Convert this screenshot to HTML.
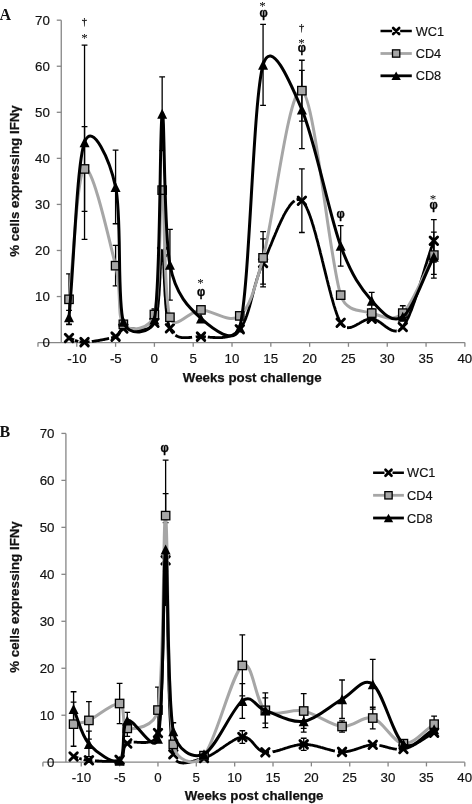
<!DOCTYPE html>
<html><head><meta charset="utf-8"><title>Figure</title>
<style>html,body{margin:0;padding:0;background:#fff;}svg{display:block;}</style>
</head><body>
<svg width="472" height="804" viewBox="0 0 472 804">
<rect width="472" height="804" fill="#fff"/>
<g stroke="#868686" stroke-width="1.3" fill="none">
<path d="M61.26 20.18 V342.60"/>
<path d="M37.97 342.60 H464.88"/>
<path d="M56.76 296.54 H61.26"/>
<path d="M56.76 250.48 H61.26"/>
<path d="M56.76 204.42 H61.26"/>
<path d="M56.76 158.36 H61.26"/>
<path d="M56.76 112.30 H61.26"/>
<path d="M56.76 66.24 H61.26"/>
<path d="M56.76 20.18 H61.26"/>
<path d="M37.97 342.60 v4.2"/>
<path d="M76.78 342.60 v4.2"/>
<path d="M115.59 342.60 v4.2"/>
<path d="M154.40 342.60 v4.2"/>
<path d="M193.21 342.60 v4.2"/>
<path d="M232.02 342.60 v4.2"/>
<path d="M270.83 342.60 v4.2"/>
<path d="M309.64 342.60 v4.2"/>
<path d="M348.45 342.60 v4.2"/>
<path d="M387.26 342.60 v4.2"/>
<path d="M426.07 342.60 v4.2"/>
<path d="M464.88 342.60 v4.2"/>
</g>
<g font-family="Liberation Sans, sans-serif" font-size="13.3" fill="#111" stroke="#111" stroke-width="0.18">
<text x="49.86" y="347.10" text-anchor="end">0</text>
<text x="49.86" y="301.04" text-anchor="end">10</text>
<text x="49.86" y="254.98" text-anchor="end">20</text>
<text x="49.86" y="208.92" text-anchor="end">30</text>
<text x="49.86" y="162.86" text-anchor="end">40</text>
<text x="49.86" y="116.80" text-anchor="end">50</text>
<text x="49.86" y="70.74" text-anchor="end">60</text>
<text x="49.86" y="24.68" text-anchor="end">70</text>
<text x="76.98" y="362.90" text-anchor="middle">-10</text>
<text x="115.79" y="362.90" text-anchor="middle">-5</text>
<text x="154.30" y="362.90" text-anchor="middle">0</text>
<text x="193.11" y="362.90" text-anchor="middle">5</text>
<text x="231.92" y="362.90" text-anchor="middle">10</text>
<text x="270.73" y="362.90" text-anchor="middle">15</text>
<text x="309.54" y="362.90" text-anchor="middle">20</text>
<text x="348.35" y="362.90" text-anchor="middle">25</text>
<text x="387.16" y="362.90" text-anchor="middle">30</text>
<text x="425.97" y="362.90" text-anchor="middle">35</text>
<text x="464.78" y="362.90" text-anchor="middle">40</text>
</g>
<text font-family="Liberation Sans, sans-serif" font-size="13.3" font-weight="bold" fill="#111" stroke="#111" stroke-width="0.25" x="252.20" y="381.80" text-anchor="middle">Weeks post challenge</text>
<text font-family="Liberation Sans, sans-serif" font-size="13.3" font-weight="bold" fill="#111" stroke="#111" stroke-width="0.25" transform="translate(19.00 181.00) rotate(-90)" text-anchor="middle">% cells expressing IFNγ</text>
<text font-family="Liberation Serif, serif" font-weight="bold" font-size="16" fill="#111" x="-0.6" y="20.30">A</text>
<g stroke="#000" stroke-width="1.3" fill="none"><path d="M263.07 238.97 V286.87 M260.17 238.97 h5.8 M260.17 286.87 h5.8"/><path d="M301.88 168.95 V232.52 M298.98 168.95 h5.8 M298.98 232.52 h5.8"/><path d="M433.83 219.62 V262.00 M430.93 219.62 h5.8 M430.93 262.00 h5.8"/></g>
<g stroke="#000" stroke-width="1.3" fill="none"><path d="M69.02 273.97 V324.64 M66.12 273.97 h5.8 M66.12 324.64 h5.8"/><path d="M84.54 126.58 V211.33 M81.64 126.58 h5.8 M81.64 211.33 h5.8"/><path d="M115.59 245.41 V285.95 M112.69 245.41 h5.8 M112.69 285.95 h5.8"/><path d="M154.40 308.98 V320.03 M151.50 308.98 h5.8 M151.50 320.03 h5.8"/><path d="M263.07 231.60 V284.10 M260.17 231.60 h5.8 M260.17 284.10 h5.8"/><path d="M301.88 60.25 V121.05 M298.98 60.25 h5.8 M298.98 121.05 h5.8"/><path d="M402.78 305.75 V320.49 M399.88 305.75 h5.8 M399.88 320.49 h5.8"/><path d="M433.83 232.06 V278.12 M430.93 232.06 h5.8 M430.93 278.12 h5.8"/></g>
<g stroke="#000" stroke-width="1.3" fill="none"><path d="M69.02 310.36 V324.18 M66.12 310.36 h5.8 M66.12 324.18 h5.8"/><path d="M84.54 45.05 V239.43 M81.64 45.05 h5.8 M81.64 239.43 h5.8"/><path d="M115.59 150.07 V223.77 M112.69 150.07 h5.8 M112.69 223.77 h5.8"/><path d="M162.16 76.83 V150.53 M159.26 76.83 h5.8 M159.26 150.53 h5.8"/><path d="M169.92 229.29 V300.22 M167.02 229.29 h5.8 M167.02 300.22 h5.8"/><path d="M263.07 24.33 V105.39 M260.17 24.33 h5.8 M260.17 105.39 h5.8"/><path d="M301.88 70.39 V148.69 M298.98 70.39 h5.8 M298.98 148.69 h5.8"/><path d="M340.69 225.61 V266.14 M337.79 225.61 h5.8 M337.79 266.14 h5.8"/><path d="M371.74 292.39 V308.98 M368.84 292.39 h5.8 M368.84 308.98 h5.8"/><path d="M433.83 238.97 V274.43 M430.93 238.97 h5.8 M430.93 274.43 h5.8"/></g>
<path d="M69.0 338.0L69.3 338.1L69.5 338.1L69.8 338.2L70.0 338.3L70.3 338.4L70.5 338.5L70.7 338.5L71.0 338.6L71.2 338.7L71.4 338.8L71.7 338.9L71.9 339.0L72.1 339.1L72.3 339.2L72.5 339.3L72.8 339.4L73.0 339.4L73.2 339.5L73.4 339.6L73.6 339.7L73.8 339.8L74.0 339.9M74.9 340.3L75.1 340.4L75.4 340.5L75.6 340.6L75.8 340.7L76.0 340.8L76.3 340.8L76.5 340.9L76.7 341.0L77.0 341.1L77.2 341.2L77.5 341.3L77.7 341.3L78.0 341.4L78.2 341.5M79.6 341.8L79.9 341.8L80.1 341.9L80.4 341.9L80.7 342.0L81.1 342.0L81.4 342.0L81.7 342.1L82.0 342.1L82.4 342.1L82.7 342.1L83.1 342.1L83.4 342.2L83.8 342.2L84.2 342.1L84.5 342.1L84.9 342.1L85.3 342.1L85.8 342.1L86.2 342.1L86.7 342.0L87.1 342.0L87.6 342.0L88.1 341.9L88.6 341.9L89.1 341.8L89.6 341.8M91.8 341.5L92.3 341.4L92.9 341.4L93.4 341.3L94.0 341.2L94.6 341.1L95.2 341.0L95.8 340.9L96.4 340.8L97.0 340.7L97.6 340.7L98.2 340.6L98.8 340.5L99.4 340.4L99.9 340.2L100.5 340.1L101.1 340.0L101.7 339.9L102.3 339.8L102.9 339.7L103.5 339.6L104.1 339.5L104.7 339.4L105.3 339.2L105.8 339.1L106.4 339.0L106.9 338.9L107.5 338.8L108.0 338.6L108.6 338.5L109.1 338.4M111.1 337.9L111.6 337.8L112.0 337.7L112.5 337.6L112.9 337.4L113.4 337.3L113.8 337.2L114.2 337.1L114.5 337.0L114.9 336.8L115.3 336.7L115.6 336.6L115.8 336.5L116.1 336.4L116.3 336.3L116.5 336.2L116.8 336.1L116.9 336.0L117.1 335.9L117.3 335.7L117.5 335.6L117.6 335.5L117.8 335.4L117.9 335.2L118.0 335.1L118.2 335.0L118.3 334.8L118.4 334.7L118.5 334.6L118.6 334.4L118.7 334.3L118.8 334.1L118.9 334.0L118.9 333.8L119.0 333.7L119.1 333.5L119.2 333.4L119.2 333.2L119.3 333.1L119.3 332.9L119.4 332.7L119.5 332.6L119.5 332.4L119.6 332.3L119.7 332.1L119.7 332.0L119.8 331.8L119.9 331.7L119.9 331.5L120.0 331.4L120.1 331.2L120.2 331.1L120.3 330.9L120.3 330.8L120.4 330.6L120.5 330.5L120.7 330.3L120.8 330.2L120.9 330.1L121.0 329.9L121.2 329.8L121.3 329.7L121.5 329.5L121.6 329.4L121.8 329.3L122.0 329.2L122.2 329.1L122.4 329.0L122.6 328.8L122.8 328.7L123.1 328.6L123.3 328.6L123.7 328.4L124.0 328.4L124.4 328.3L124.8 328.2L125.2 328.2L125.6 328.2L126.1 328.2L126.5 328.2L127.0 328.2L127.4 328.2L127.9 328.2L128.4 328.3L129.0 328.3L129.5 328.4L130.0 328.5L130.6 328.6L131.1 328.6L131.7 328.7L132.3 328.8L132.8 328.9L133.4 329.0L134.0 329.0L134.6 329.1L135.2 329.2L135.8 329.3L136.4 329.4L137.0 329.4L137.6 329.5L138.3 329.6L138.9 329.6L139.5 329.6L140.1 329.7L140.7 329.7L141.3 329.7L141.9 329.7L142.5 329.7L143.1 329.6L143.7 329.6L144.3 329.5L144.9 329.5L145.5 329.4L146.1 329.2L146.6 329.1L147.2 328.9L147.7 328.8L148.3 328.6L148.8 328.3L149.3 328.1L149.8 327.8L150.3 327.5L150.8 327.2L151.2 326.8L151.7 326.4L152.1 326.0L152.6 325.5L153.0 325.1L153.3 324.5L153.7 324.0L154.1 323.4L154.4 322.8L154.7 322.1L155.0 321.4L155.3 320.5L155.6 319.6L155.9 318.7L156.1 317.7L156.4 316.6L156.6 315.5L156.8 314.3L157.0 313.0L157.2 311.7L157.4 310.4L157.6 309.0L157.8 307.6L158.0 306.2L158.1 304.7L158.3 303.2L158.4 301.7L158.6 300.1L158.7 298.5L158.8 296.9L159.0 295.3L159.1 293.7L159.2 292.0L159.3 290.4L159.4 288.7L159.5 287.1L159.6 285.5L159.7 283.8L159.7 282.2L159.8 280.6L159.9 279.0L160.0 277.4L160.0 275.8L160.1 274.3L160.2 272.7L160.2 271.3L160.3 269.8L160.4 268.4L160.4 267.0L160.5 265.7L160.6 264.4L160.6 263.1L160.7 261.9L160.8 260.8L160.8 259.7L160.9 258.6L161.0 257.7L161.1 256.7L161.1 255.9L161.2 255.1L161.3 254.4L161.4 253.8L161.5 253.3L161.6 252.8L161.7 252.4L161.8 252.2L161.9 252.0L162.0 251.9L162.2 251.9L162.3 252.0L162.4 252.1L162.5 252.4L162.6 252.8L162.7 253.3L162.8 253.8L162.9 254.5L163.0 255.2L163.1 256.0L163.2 256.9L163.3 257.8L163.3 258.8L163.4 259.9L163.5 261.0L163.6 262.2L163.6 263.5L163.7 264.8L163.8 266.1L163.8 267.5L163.9 269.0L164.0 270.4L164.0 272.0L164.1 273.5L164.1 275.1L164.2 276.7L164.3 278.4L164.4 280.0L164.4 281.7L164.5 283.4L164.6 285.1L164.7 286.9L164.8 288.6L164.8 290.3L164.9 292.1L165.0 293.8L165.1 295.6L165.3 297.3L165.4 299.0L165.5 300.7L165.6 302.4L165.7 304.1L165.9 305.8L166.0 307.4L166.2 309.0L166.3 310.5L166.5 312.1L166.7 313.6L166.9 315.0L167.1 316.4L167.3 317.8L167.5 319.1L167.7 320.4L168.0 321.6L168.2 322.8L168.5 323.9L168.7 324.9L169.0 325.9L169.3 326.8L169.6 327.6L169.9 328.3L170.2 329.0L170.6 329.7L170.9 330.3L171.3 330.9L171.7 331.4L172.0 332.0L172.4 332.5L172.8 333.0L173.2 333.4M175.4 335.3L175.9 335.6L176.3 335.8L176.8 336.1L177.3 336.3L177.8 336.5L178.3 336.7L178.8 336.9L179.3 337.0L179.8 337.2L180.3 337.3L180.8 337.4L181.3 337.5L181.9 337.6L182.4 337.6L183.0 337.7L183.5 337.7L184.1 337.7L184.6 337.7L185.2 337.7L185.7 337.7L186.3 337.7L186.9 337.7L187.4 337.7L188.0 337.6L188.6 337.6L189.2 337.5L189.8 337.5L190.4 337.4L190.9 337.4L191.5 337.3L192.1 337.2M195.7 336.9L196.3 336.8L196.9 336.8L197.4 336.7L198.0 336.7L198.6 336.7L199.2 336.6L199.8 336.6L200.4 336.6L201.0 336.6L201.6 336.6L202.2 336.6L202.8 336.7L203.4 336.7L204.0 336.7L204.6 336.8L205.2 336.8L205.9 336.9M207.8 337.0L208.5 337.1L209.2 337.1L209.8 337.2L210.5 337.3L211.2 337.3L211.9 337.4L212.5 337.4L213.2 337.5L213.9 337.5L214.6 337.5L215.3 337.6L216.0 337.6L216.7 337.6L217.4 337.6L218.1 337.6L218.8 337.6L219.5 337.6L220.2 337.6L220.9 337.6L221.6 337.6L222.3 337.5L222.9 337.4L223.6 337.4L224.3 337.3L225.0 337.2L225.7 337.1L226.4 336.9L227.0 336.8L227.7 336.6L228.4 336.5L229.0 336.3L229.7 336.1L230.3 335.8L231.0 335.6L231.6 335.3L232.3 335.0L232.9 334.7L233.5 334.4L234.1 334.1L234.7 333.7L235.3 333.3L235.9 332.9L236.5 332.4L237.1 332.0L237.6 331.5L238.2 331.0L238.7 330.4L239.3 329.8L239.8 329.2L240.3 328.6L240.8 327.9L241.3 327.2L241.8 326.5L242.2 325.8L242.7 325.0L243.1 324.2L243.5 323.3L244.0 322.4L244.4 321.6L244.8 320.6L245.2 319.7L245.6 318.7L246.0 317.7L246.3 316.7L246.7 315.7L247.1 314.6L247.4 313.5L247.8 312.5L248.1 311.3L248.5 310.2L248.8 309.1L249.1 307.9L249.5 306.8L249.8 305.6L250.1 304.4L250.5 303.2L250.8 302.0L251.1 300.7L251.4 299.5L251.7 298.3L252.1 297.0L252.4 295.8L252.7 294.5L253.1 293.2L253.4 292.0L253.7 290.7L254.0 289.4L254.4 288.2L254.7 286.9L255.1 285.6L255.4 284.4L255.8 283.1L256.2 281.8L256.5 280.6L256.9 279.3L257.3 278.1L257.7 276.9L258.1 275.6L258.5 274.4L258.9 273.2L259.3 272.0L259.7 270.8L260.2 269.6L260.6 268.5L261.1 267.3L261.6 266.2L262.1 265.1L262.6 264.0L263.1 262.9L263.6 261.8L264.1 260.7L264.7 259.5L265.2 258.3L265.8 257.0L266.3 255.7L266.9 254.4L267.5 253.0L268.1 251.6L268.6 250.2L269.2 248.7L269.8 247.3L270.4 245.8L271.1 244.3L271.7 242.8L272.3 241.2L272.9 239.7L273.6 238.2L274.2 236.6L274.9 235.1L275.5 233.5L276.2 232.0L276.8 230.4L277.5 228.9L278.1 227.4L278.8 225.9L279.5 224.4L280.2 222.9L280.8 221.5L281.5 220.1L282.2 218.7L282.9 217.3L283.5 215.9L284.2 214.6L284.9 213.4L285.6 212.1L286.3 211.0L287.0 209.8L287.7 208.7L288.4 207.7L289.1 206.7L289.7 205.7L290.4 204.8L291.1 204.0L291.8 203.2L292.5 202.5L293.2 201.9L293.9 201.3L294.6 200.8M296.6 199.8L297.3 199.6L297.9 199.5L298.6 199.5L299.3 199.5L299.9 199.7L300.6 199.9L301.2 200.3L301.9 200.7L302.5 201.3L303.2 202.0L303.8 202.8L304.5 203.8L305.1 204.9L305.8 206.0L306.5 207.4L307.1 208.8L307.8 210.3L308.4 211.9L309.1 213.6L309.8 215.4L310.4 217.3L311.1 219.2L311.8 221.3L312.4 223.4L313.1 225.5L313.8 227.8L314.4 230.1L315.1 232.4L315.8 234.9L316.4 237.3L317.1 239.8L317.8 242.3L318.4 244.9L319.1 247.5L319.8 250.1L320.4 252.8L321.1 255.5L321.8 258.1L322.4 260.8L323.1 263.5L323.7 266.2L324.4 268.9L325.1 271.6L325.7 274.2L326.4 276.9L327.0 279.5L327.7 282.1L328.3 284.6L329.0 287.2L329.6 289.6L330.3 292.1L330.9 294.5L331.5 296.8L332.2 299.1L332.8 301.3L333.4 303.5L334.0 305.6L334.7 307.6L335.3 309.6L335.9 311.4L336.5 313.2L337.1 314.9L337.7 316.5L338.3 317.9L338.9 319.3L339.5 320.6L340.1 321.7L340.7 322.8L341.1 323.4L341.5 324.0L341.9 324.6L342.3 325.1L342.8 325.5L343.2 325.9L343.7 326.3L344.1 326.6M347.0 327.7L347.5 327.7L348.0 327.8L348.5 327.7L349.0 327.7L349.5 327.6L350.0 327.6L350.5 327.4L351.0 327.3L351.6 327.1L352.1 327.0L352.6 326.8L353.2 326.5L353.7 326.3L354.2 326.1L354.8 325.8L355.3 325.5L355.9 325.2L356.4 324.9L357.0 324.6L357.5 324.3L358.1 324.0L358.6 323.7L359.2 323.4L359.7 323.1L360.3 322.7L360.9 322.4L361.4 322.1L362.0 321.8L362.5 321.5L363.1 321.2L363.6 320.9L364.2 320.6L364.8 320.4L365.3 320.1L365.9 319.9L366.4 319.7L366.9 319.5L367.5 319.3L368.0 319.1L368.6 319.0L369.1 318.8L369.6 318.8L370.2 318.7L370.7 318.6L371.2 318.6L371.7 318.6L372.3 318.7L372.8 318.8L373.3 318.9L373.8 319.0L374.3 319.2L374.9 319.4L375.4 319.6L375.9 319.8L376.4 320.1L376.9 320.4L377.5 320.7L378.0 321.0L378.5 321.3L379.0 321.7L379.5 322.0L380.1 322.4L380.6 322.7L381.1 323.1L381.6 323.5L382.2 323.9L382.7 324.3L383.2 324.7L383.7 325.1L384.3 325.5L384.8 325.9L385.3 326.3L385.8 326.7L386.3 327.0L386.9 327.4L387.4 327.8L387.9 328.1L388.4 328.5L388.9 328.8L389.5 329.1L390.0 329.4L390.5 329.6L391.0 329.9L391.5 330.1L392.1 330.3L392.6 330.5L393.1 330.7L393.6 330.8L394.1 330.9L394.6 331.0L395.2 331.0L395.7 331.1L396.2 331.0L396.7 331.0M399.2 330.1L399.8 329.8L400.3 329.4L400.8 329.0L401.3 328.6L401.8 328.1L402.3 327.5L402.8 326.9L403.3 326.3L403.8 325.5L404.3 324.8L404.9 323.9L405.4 323.1L405.9 322.2L406.4 321.2L406.9 320.2L407.4 319.1L408.0 318.1L408.5 316.9L409.0 315.8L409.5 314.6L410.0 313.3L410.5 312.0L411.1 310.7L411.6 309.4L412.1 308.0L412.6 306.6L413.1 305.2L413.6 303.8L414.2 302.3L414.7 300.8L415.2 299.3L415.7 297.7L416.2 296.2L416.8 294.6L417.3 293.0L417.8 291.4L418.3 289.8L418.8 288.1L419.3 286.5L419.9 284.8L420.4 283.2L420.9 281.5L421.4 279.8L421.9 278.1L422.4 276.4L423.0 274.7L423.5 273.0L424.0 271.3L424.5 269.6L425.0 267.9L425.5 266.2L426.1 264.6L426.6 262.9L427.1 261.2L427.6 259.5L428.1 257.9L428.7 256.3L429.2 254.6L429.7 253.0L430.2 251.4L430.7 249.8L431.2 248.3L431.8 246.7L432.3 245.2L432.8 243.7L433.3 242.3L433.8 240.8" fill="none" stroke="#000" stroke-width="2.8" stroke-linejoin="round"/>
<path d="M65.27 334.24 L72.77 341.74 M65.27 341.74 L72.77 334.24" stroke="#000" stroke-width="2.9" stroke-linecap="round" fill="none"/>
<path d="M80.79 338.39 L88.29 345.89 M80.79 345.89 L88.29 338.39" stroke="#000" stroke-width="2.9" stroke-linecap="round" fill="none"/>
<path d="M111.84 332.86 L119.34 340.36 M111.84 340.36 L119.34 332.86" stroke="#000" stroke-width="2.9" stroke-linecap="round" fill="none"/>
<path d="M119.60 324.80 L127.10 332.30 M119.60 332.30 L127.10 324.80" stroke="#000" stroke-width="2.9" stroke-linecap="round" fill="none"/>
<path d="M150.65 319.04 L158.15 326.54 M150.65 326.54 L158.15 319.04" stroke="#000" stroke-width="2.9" stroke-linecap="round" fill="none"/>
<path d="M158.41 248.11 L165.91 255.61 M158.41 255.61 L165.91 248.11" stroke="#000" stroke-width="2.9" stroke-linecap="round" fill="none"/>
<path d="M166.17 324.57 L173.67 332.07 M166.17 332.07 L173.67 324.57" stroke="#000" stroke-width="2.9" stroke-linecap="round" fill="none"/>
<path d="M197.22 332.86 L204.72 340.36 M197.22 340.36 L204.72 332.86" stroke="#000" stroke-width="2.9" stroke-linecap="round" fill="none"/>
<path d="M236.03 325.49 L243.53 332.99 M236.03 332.99 L243.53 325.49" stroke="#000" stroke-width="2.9" stroke-linecap="round" fill="none"/>
<path d="M259.32 259.17 L266.82 266.67 M259.32 266.67 L266.82 259.17" stroke="#000" stroke-width="2.9" stroke-linecap="round" fill="none"/>
<path d="M298.13 196.99 L305.63 204.49 M298.13 204.49 L305.63 196.99" stroke="#000" stroke-width="2.9" stroke-linecap="round" fill="none"/>
<path d="M336.94 319.04 L344.44 326.54 M336.94 326.54 L344.44 319.04" stroke="#000" stroke-width="2.9" stroke-linecap="round" fill="none"/>
<path d="M367.99 314.90 L375.49 322.40 M367.99 322.40 L375.49 314.90" stroke="#000" stroke-width="2.9" stroke-linecap="round" fill="none"/>
<path d="M399.03 323.19 L406.53 330.69 M399.03 330.69 L406.53 323.19" stroke="#000" stroke-width="2.9" stroke-linecap="round" fill="none"/>
<path d="M430.08 237.06 L437.58 244.56 M430.08 244.56 L437.58 237.06" stroke="#000" stroke-width="2.9" stroke-linecap="round" fill="none"/>
<path d="M69.02 299.30 C74.19 255.85 76.78 174.56 84.54 168.95 C92.30 163.35 109.12 239.79 115.59 265.68 C122.06 291.57 116.88 316.18 123.35 324.31 C129.82 332.45 149.88 330.14 154.40 314.50 C160.87 292.14 159.57 189.68 162.16 190.14 C164.75 190.60 163.46 297.31 169.92 317.27 C174.84 332.45 189.33 310.13 200.97 309.90 C212.62 309.67 229.43 324.56 239.78 315.89 C250.13 307.21 254.76 287.99 263.07 257.85 C273.42 220.31 288.94 84.43 301.88 90.65 C314.81 96.87 329.04 258.08 340.69 295.16 C346.06 312.27 361.39 310.13 371.74 313.12 C382.09 316.12 392.43 322.79 402.78 313.12 C413.13 303.45 423.48 274.43 433.83 255.09" fill="none" stroke="#a6a6a6" stroke-width="3" stroke-linejoin="round"/>
<rect x="64.82" y="295.10" width="8.40" height="8.40" fill="#a6a6a6" stroke="#000" stroke-width="1.3"/>
<rect x="80.34" y="164.75" width="8.40" height="8.40" fill="#a6a6a6" stroke="#000" stroke-width="1.3"/>
<rect x="111.39" y="261.48" width="8.40" height="8.40" fill="#a6a6a6" stroke="#000" stroke-width="1.3"/>
<rect x="119.15" y="320.11" width="8.40" height="8.40" fill="#a6a6a6" stroke="#000" stroke-width="1.3"/>
<rect x="150.20" y="310.30" width="8.40" height="8.40" fill="#a6a6a6" stroke="#000" stroke-width="1.3"/>
<rect x="157.96" y="185.94" width="8.40" height="8.40" fill="#a6a6a6" stroke="#000" stroke-width="1.3"/>
<rect x="165.72" y="313.07" width="8.40" height="8.40" fill="#a6a6a6" stroke="#000" stroke-width="1.3"/>
<rect x="196.77" y="305.70" width="8.40" height="8.40" fill="#a6a6a6" stroke="#000" stroke-width="1.3"/>
<rect x="235.58" y="311.69" width="8.40" height="8.40" fill="#a6a6a6" stroke="#000" stroke-width="1.3"/>
<rect x="258.87" y="253.65" width="8.40" height="8.40" fill="#a6a6a6" stroke="#000" stroke-width="1.3"/>
<rect x="297.68" y="86.45" width="8.40" height="8.40" fill="#a6a6a6" stroke="#000" stroke-width="1.3"/>
<rect x="336.49" y="290.96" width="8.40" height="8.40" fill="#a6a6a6" stroke="#000" stroke-width="1.3"/>
<rect x="367.54" y="308.92" width="8.40" height="8.40" fill="#a6a6a6" stroke="#000" stroke-width="1.3"/>
<rect x="398.58" y="308.92" width="8.40" height="8.40" fill="#a6a6a6" stroke="#000" stroke-width="1.3"/>
<rect x="429.63" y="250.89" width="8.40" height="8.40" fill="#a6a6a6" stroke="#000" stroke-width="1.3"/>
<path d="M69.02 317.27 C74.19 258.92 76.78 163.96 84.54 142.24 C92.30 120.51 109.85 160.33 115.59 186.92 C122.06 216.86 116.88 299.76 123.35 321.87 C127.72 336.81 151.55 334.87 154.40 319.57 C160.87 284.87 159.57 122.82 162.16 113.68 C164.75 104.55 163.46 230.64 169.92 264.76 C175.70 295.21 189.33 307.98 200.97 318.42 C212.62 328.86 235.04 346.75 239.78 327.40 C250.13 285.14 252.72 101.17 263.07 64.86 C271.18 36.40 290.22 82.34 301.88 109.54 C314.81 139.71 329.04 214.02 340.69 245.87 C351.50 275.46 361.39 288.86 371.74 300.69 C382.09 312.51 392.43 324.14 402.78 316.81 C413.13 309.48 423.48 276.73 433.83 256.70" fill="none" stroke="#000" stroke-width="3" stroke-linejoin="round"/>
<path d="M69.02 312.27 L74.02 322.27 L64.02 322.27 Z" fill="#000"/>
<path d="M84.54 137.24 L89.54 147.24 L79.54 147.24 Z" fill="#000"/>
<path d="M115.59 181.92 L120.59 191.92 L110.59 191.92 Z" fill="#000"/>
<path d="M123.35 316.87 L128.35 326.87 L118.35 326.87 Z" fill="#000"/>
<path d="M154.40 314.57 L159.40 324.57 L149.40 324.57 Z" fill="#000"/>
<path d="M162.16 108.68 L167.16 118.68 L157.16 118.68 Z" fill="#000"/>
<path d="M169.92 259.76 L174.92 269.76 L164.92 269.76 Z" fill="#000"/>
<path d="M200.97 313.42 L205.97 323.42 L195.97 323.42 Z" fill="#000"/>
<path d="M239.78 322.40 L244.78 332.40 L234.78 332.40 Z" fill="#000"/>
<path d="M263.07 59.86 L268.07 69.86 L258.07 69.86 Z" fill="#000"/>
<path d="M301.88 104.54 L306.88 114.54 L296.88 114.54 Z" fill="#000"/>
<path d="M340.69 240.87 L345.69 250.87 L335.69 250.87 Z" fill="#000"/>
<path d="M371.74 295.69 L376.74 305.69 L366.74 305.69 Z" fill="#000"/>
<path d="M402.78 311.81 L407.78 321.81 L397.78 321.81 Z" fill="#000"/>
<path d="M433.83 251.70 L438.83 261.70 L428.83 261.70 Z" fill="#000"/>
<text font-family="Liberation Serif, serif" font-size="10.5" fill="#000" stroke="#000" stroke-width="0.2" x="84.40" y="25.40" text-anchor="middle">†</text>
<text font-family="Liberation Serif, serif" font-size="13" fill="#000" x="84.40" y="41.60" text-anchor="middle">*</text>
<text font-family="Liberation Serif, serif" font-size="13" fill="#000" x="200.40" y="286.60" text-anchor="middle">*</text>
<text font-family="Liberation Sans, sans-serif" font-size="11.5" font-weight="bold" fill="#000" stroke="#000" stroke-width="0.3" transform="translate(201.00 296.30) scale(1 1.18)" text-anchor="middle">φ</text>
<text font-family="Liberation Serif, serif" font-size="13" fill="#000" x="262.60" y="9.80" text-anchor="middle">*</text>
<text font-family="Liberation Sans, sans-serif" font-size="11.5" font-weight="bold" fill="#000" stroke="#000" stroke-width="0.3" transform="translate(263.50 16.85) scale(1 1.18)" text-anchor="middle">φ</text>
<text font-family="Liberation Serif, serif" font-size="10.5" fill="#000" stroke="#000" stroke-width="0.2" x="301.60" y="31.00" text-anchor="middle">†</text>
<text font-family="Liberation Serif, serif" font-size="13" fill="#000" x="301.60" y="46.70" text-anchor="middle">*</text>
<text font-family="Liberation Sans, sans-serif" font-size="11.5" font-weight="bold" fill="#000" stroke="#000" stroke-width="0.3" transform="translate(301.90 51.90) scale(1 1.18)" text-anchor="middle">φ</text>
<text font-family="Liberation Sans, sans-serif" font-size="11.5" font-weight="bold" fill="#000" stroke="#000" stroke-width="0.3" transform="translate(340.55 218.40) scale(1 1.18)" text-anchor="middle">φ</text>
<text font-family="Liberation Serif, serif" font-size="13" fill="#000" x="433.00" y="202.75" text-anchor="middle">*</text>
<text font-family="Liberation Sans, sans-serif" font-size="11.5" font-weight="bold" fill="#000" stroke="#000" stroke-width="0.3" transform="translate(433.60 209.30) scale(1 1.18)" text-anchor="middle">φ</text>
<path d="M380.50 31.00 H392.15 M400.15 31.00 H411.80" stroke="#000" stroke-width="2.6"/>
<path d="M393.15 28.00 L399.15 34.00 M393.15 34.00 L399.15 28.00" stroke="#000" stroke-width="2.7" stroke-linecap="round" fill="none"/>
<path d="M380.50 53.50 H411.80" stroke="#a6a6a6" stroke-width="2.8"/>
<rect x="392.50" y="49.85" width="7.30" height="7.30" fill="#a6a6a6" stroke="#000" stroke-width="1.3"/>
<path d="M380.50 75.80 H411.80" stroke="#000" stroke-width="2.8"/>
<path d="M396.15 71.60 L400.85 80.00 L391.45 80.00 Z" fill="#000"/>
<text font-family="Liberation Sans, sans-serif" font-size="12.75" fill="#111" stroke="#111" stroke-width="0.18" x="415.70" y="35.50">WC1</text>
<text font-family="Liberation Sans, sans-serif" font-size="12.75" fill="#111" stroke="#111" stroke-width="0.18" x="415.70" y="58.00">CD4</text>
<text font-family="Liberation Sans, sans-serif" font-size="12.75" fill="#111" stroke="#111" stroke-width="0.18" x="415.70" y="80.30">CD8</text>
<g stroke="#868686" stroke-width="1.3" fill="none">
<path d="M65.91 433.41 V762.20"/>
<path d="M42.90 762.20 H464.80"/>
<path d="M61.41 715.23 H65.91"/>
<path d="M61.41 668.26 H65.91"/>
<path d="M61.41 621.29 H65.91"/>
<path d="M61.41 574.32 H65.91"/>
<path d="M61.41 527.35 H65.91"/>
<path d="M61.41 480.38 H65.91"/>
<path d="M61.41 433.41 H65.91"/>
<path d="M42.90 762.20 v4.2"/>
<path d="M81.25 762.20 v4.2"/>
<path d="M119.61 762.20 v4.2"/>
<path d="M157.96 762.20 v4.2"/>
<path d="M196.31 762.20 v4.2"/>
<path d="M234.67 762.20 v4.2"/>
<path d="M273.02 762.20 v4.2"/>
<path d="M311.38 762.20 v4.2"/>
<path d="M349.74 762.20 v4.2"/>
<path d="M388.09 762.20 v4.2"/>
<path d="M426.45 762.20 v4.2"/>
<path d="M464.80 762.20 v4.2"/>
</g>
<g font-family="Liberation Sans, sans-serif" font-size="13.3" fill="#111" stroke="#111" stroke-width="0.18">
<text x="54.51" y="766.70" text-anchor="end">0</text>
<text x="54.51" y="719.73" text-anchor="end">10</text>
<text x="54.51" y="672.76" text-anchor="end">20</text>
<text x="54.51" y="625.79" text-anchor="end">30</text>
<text x="54.51" y="578.82" text-anchor="end">40</text>
<text x="54.51" y="531.85" text-anchor="end">50</text>
<text x="54.51" y="484.88" text-anchor="end">60</text>
<text x="54.51" y="437.91" text-anchor="end">70</text>
<text x="81.45" y="781.50" text-anchor="middle">-10</text>
<text x="119.81" y="781.50" text-anchor="middle">-5</text>
<text x="157.86" y="781.50" text-anchor="middle">0</text>
<text x="196.22" y="781.50" text-anchor="middle">5</text>
<text x="234.57" y="781.50" text-anchor="middle">10</text>
<text x="272.92" y="781.50" text-anchor="middle">15</text>
<text x="311.28" y="781.50" text-anchor="middle">20</text>
<text x="349.63" y="781.50" text-anchor="middle">25</text>
<text x="387.99" y="781.50" text-anchor="middle">30</text>
<text x="426.35" y="781.50" text-anchor="middle">35</text>
<text x="464.70" y="781.50" text-anchor="middle">40</text>
</g>
<text font-family="Liberation Sans, sans-serif" font-size="13.3" font-weight="bold" fill="#111" stroke="#111" stroke-width="0.25" x="254.10" y="800.40" text-anchor="middle">Weeks post challenge</text>
<text font-family="Liberation Sans, sans-serif" font-size="13.3" font-weight="bold" fill="#111" stroke="#111" stroke-width="0.25" transform="translate(19.40 597.00) rotate(-90)" text-anchor="middle">% cells expressing IFNγ</text>
<text font-family="Liberation Serif, serif" font-weight="bold" font-size="16" fill="#111" x="-0.6" y="436.90">B</text>
<g stroke="#000" stroke-width="1.3" fill="none"><path d="M165.63 522.65 V597.81 M162.73 522.65 h5.8 M162.73 597.81 h5.8"/><path d="M242.34 730.73 V743.41 M239.44 730.73 h5.8 M239.44 743.41 h5.8"/><path d="M303.71 738.25 V750.46 M300.81 738.25 h5.8 M300.81 750.46 h5.8"/></g>
<g stroke="#000" stroke-width="1.3" fill="none"><path d="M73.58 702.08 V746.23 M70.68 702.08 h5.8 M70.68 746.23 h5.8"/><path d="M88.92 701.61 V739.18 M86.02 701.61 h5.8 M86.02 739.18 h5.8"/><path d="M119.61 683.29 V723.68 M116.70 683.29 h5.8 M116.70 723.68 h5.8"/><path d="M127.28 720.40 V736.37 M124.38 720.40 h5.8 M124.38 736.37 h5.8"/><path d="M157.96 687.05 V733.08 M155.06 687.05 h5.8 M155.06 733.08 h5.8"/><path d="M165.63 460.18 V571.03 M162.73 460.18 h5.8 M162.73 571.03 h5.8"/><path d="M242.34 634.91 V695.97 M239.44 634.91 h5.8 M239.44 695.97 h5.8"/><path d="M265.35 692.92 V727.68 M262.45 692.92 h5.8 M262.45 727.68 h5.8"/><path d="M303.71 693.62 V728.38 M300.81 693.62 h5.8 M300.81 728.38 h5.8"/><path d="M342.06 720.87 V732.14 M339.16 720.87 h5.8 M339.16 732.14 h5.8"/><path d="M372.75 707.25 V728.85 M369.85 707.25 h5.8 M369.85 728.85 h5.8"/><path d="M434.12 716.17 V732.14 M431.22 716.17 h5.8 M431.22 732.14 h5.8"/></g>
<g stroke="#000" stroke-width="1.3" fill="none"><path d="M73.58 691.75 V726.50 M70.68 691.75 h5.8 M70.68 726.50 h5.8"/><path d="M88.92 731.20 V756.56 M86.02 731.20 h5.8 M86.02 756.56 h5.8"/><path d="M127.28 712.41 V728.38 M124.38 712.41 h5.8 M124.38 728.38 h5.8"/><path d="M165.63 493.53 V605.32 M162.73 493.53 h5.8 M162.73 605.32 h5.8"/><path d="M173.30 722.75 V739.65 M170.40 722.75 h5.8 M170.40 739.65 h5.8"/><path d="M242.34 683.53 V718.28 M239.44 683.53 h5.8 M239.44 718.28 h5.8"/><path d="M265.35 697.85 V723.21 M262.45 697.85 h5.8 M262.45 723.21 h5.8"/><path d="M303.71 710.53 V732.14 M300.81 710.53 h5.8 M300.81 732.14 h5.8"/><path d="M342.06 680.00 V718.52 M339.16 680.00 h5.8 M339.16 718.52 h5.8"/><path d="M372.75 659.34 V709.12 M369.85 659.34 h5.8 M369.85 709.12 h5.8"/></g>
<path d="M73.6 756.6L73.8 756.6L74.1 756.7L74.3 756.8L74.6 756.8L74.8 756.9L75.0 757.0L75.3 757.0L75.5 757.1L75.7 757.2L76.0 757.2L76.2 757.3L76.4 757.4L76.6 757.5L76.8 757.5L77.1 757.6L77.3 757.7L77.5 757.7L77.7 757.8L77.9 757.9L78.1 758.0M79.2 758.3L79.4 758.4L79.6 758.5L79.8 758.6L80.1 758.6L80.3 758.7L80.5 758.8L80.7 758.8L81.0 758.9L81.2 759.0L81.4 759.1L81.7 759.1M83.7 759.6L84.0 759.7L84.3 759.7L84.6 759.8L84.9 759.8L85.2 759.9L85.5 759.9L85.8 760.0L86.1 760.0L86.4 760.1L86.8 760.1L87.1 760.2L87.5 760.2L87.8 760.2L88.2 760.3L88.5 760.3L88.9 760.3L89.3 760.3L89.7 760.4L90.1 760.4L90.6 760.4L91.0 760.5L91.5 760.5L91.9 760.6L92.4 760.6M95.0 760.8L95.5 760.8L96.1 760.9L96.6 760.9L97.2 761.0L97.7 761.0L98.3 761.0L98.9 761.1L99.4 761.1L100.0 761.1L100.6 761.2L101.2 761.2L101.8 761.2L102.4 761.3L103.0 761.3L103.6 761.3L104.1 761.3L104.7 761.3L105.3 761.4L105.9 761.4L106.5 761.4L107.1 761.4L107.7 761.4L108.3 761.4L108.8 761.4L109.4 761.4L110.0 761.4L110.5 761.3L111.1 761.3L111.6 761.3L112.1 761.3L112.7 761.2L113.2 761.2L113.7 761.1L114.2 761.1L114.7 761.0L115.2 761.0L115.6 760.9L116.1 760.8L116.6 760.7L117.0 760.7L117.4 760.6L117.8 760.5L118.2 760.4L118.6 760.2L118.9 760.1L119.3 760.0L119.6 759.9L119.9 759.7L120.2 759.5L120.5 759.4L120.7 759.2L121.0 759.0L121.2 758.8L121.4 758.6L121.6 758.4L121.8 758.2L122.0 758.0L122.1 757.7L122.2 757.5L122.4 757.2L122.5 757.0L122.6 756.7L122.7 756.5L122.8 756.2L122.9 755.9L122.9 755.6L123.0 755.3L123.1 755.0L123.1 754.7L123.2 754.4L123.2 754.1L123.3 753.8L123.3 753.5L123.3 753.2L123.4 752.9L123.4 752.6L123.4 752.2L123.5 751.9L123.5 751.6L123.5 751.3L123.6 751.0L123.6 750.6L123.7 750.3L123.7 750.0L123.8 749.7L123.8 749.3L123.9 749.0L123.9 748.7L124.0 748.4L124.1 748.1L124.2 747.8L124.3 747.5L124.4 747.2L124.5 746.9L124.6 746.6L124.8 746.3L124.9 746.0L125.1 745.7L125.3 745.4L125.5 745.1L125.7 744.9L125.9 744.6L126.1 744.4L126.4 744.1L126.7 743.9L127.0 743.6L127.3 743.4L127.6 743.2L128.0 743.0L128.3 742.8L128.7 742.7L129.2 742.6L129.6 742.5L130.1 742.4L130.5 742.3L131.0 742.2L131.5 742.2M133.7 742.1L134.3 742.1L134.9 742.2L135.5 742.2L136.1 742.2L136.7 742.2L137.3 742.3L138.0 742.3L138.6 742.3L139.2 742.4L139.9 742.4L140.5 742.4L141.2 742.5L141.8 742.5L142.5 742.5L143.1 742.5L143.8 742.5L144.4 742.5L145.1 742.5L145.7 742.5L146.3 742.4L146.9 742.3L147.6 742.3L148.2 742.2L148.8 742.1L149.4 742.0L150.0 741.8L150.5 741.6L151.1 741.5L151.6 741.2L152.1 741.0L152.7 740.7L153.2 740.5L153.6 740.2L154.1 739.8L154.6 739.4L155.0 739.0L155.4 738.6L155.8 738.1L156.1 737.6L156.5 737.1L156.8 736.5L157.1 735.9L157.3 735.3L157.6 734.6L157.8 733.9L158.0 733.1L158.3 731.5L158.6 729.7L158.9 727.7L159.1 725.5L159.4 723.2L159.7 720.7L159.9 718.1L160.1 715.3L160.4 712.5L160.6 709.4L160.8 706.3L161.0 703.0L161.2 699.7L161.3 696.2L161.5 692.7L161.7 689.1L161.8 685.4L162.0 681.6L162.1 677.8L162.2 673.9L162.3 670.0L162.5 666.0L162.6 662.0L162.7 658.0L162.8 654.0L162.9 650.0L163.0 645.9L163.1 641.9L163.1 637.9L163.2 633.9L163.3 629.9L163.4 626.0L163.5 622.1L163.5 618.3L163.6 614.5L163.7 610.8L163.7 607.1L163.8 603.6L163.9 600.1L163.9 596.7L164.0 593.4L164.1 590.2L164.1 587.2L164.2 584.3L164.3 581.5L164.3 578.8L164.4 576.3L164.5 573.9L164.5 571.7L164.6 569.7L164.7 567.8L164.8 566.2L164.9 564.7L165.0 563.4L165.1 562.3L165.2 561.4L165.3 560.8L165.4 560.4L165.5 560.2L165.6 560.2L165.8 560.5L165.9 561.1L166.0 561.9L166.1 562.9L166.2 564.2L166.3 565.6L166.4 567.3L166.5 569.2L166.6 571.3L166.6 573.5L166.7 576.0L166.8 578.6L166.9 581.4L166.9 584.3L167.0 587.4L167.1 590.6L167.1 594.0L167.2 597.5L167.3 601.1L167.3 604.8L167.4 608.6L167.5 612.5L167.5 616.5L167.6 620.5L167.7 624.7L167.7 628.9L167.8 633.1L167.9 637.5L168.0 641.8L168.0 646.2L168.1 650.6L168.2 655.0L168.3 659.4L168.4 663.9L168.5 668.3L168.6 672.7L168.7 677.1L168.8 681.5L168.9 685.8L169.0 690.1L169.2 694.3L169.3 698.4L169.5 702.5L169.6 706.6L169.8 710.5L169.9 714.3L170.1 718.1L170.3 721.7L170.5 725.2L170.7 728.7L170.9 731.9L171.1 735.1L171.4 738.0L171.6 740.9L171.9 743.5L172.1 746.0L172.4 748.4L172.7 750.5L173.0 752.5L173.3 754.2L173.5 755.0L173.6 755.7M176.2 760.4L176.5 760.7L176.9 761.0L177.3 761.3L177.7 761.6L178.2 761.9L178.6 762.1L179.1 762.3L179.5 762.4L180.0 762.6L180.5 762.7L181.0 762.8L181.5 762.9L182.1 762.9L182.6 763.0L183.2 763.0L183.7 763.0L184.3 762.9L184.9 762.9L185.4 762.9L186.0 762.8L186.6 762.7L187.2 762.6L187.8 762.5L188.4 762.4L189.1 762.3L189.7 762.1L190.3 762.0L190.9 761.8L191.6 761.6L192.2 761.5L192.8 761.3L193.5 761.1L194.1 760.9L194.8 760.7L195.4 760.5L196.0 760.3L196.7 760.1L197.3 759.9L197.9 759.7L198.6 759.5L199.2 759.3L199.8 759.2L200.4 759.0L201.0 758.8L201.6 758.6L202.2 758.4L202.8 758.3L203.4 758.1L204.0 758.0L204.6 757.8L205.2 757.6L205.8 757.4L206.4 757.2L207.0 757.0L207.6 756.7L208.2 756.4L208.8 756.1L209.5 755.8L210.1 755.5L210.8 755.2L211.4 754.8L212.1 754.4L212.7 754.0L213.4 753.6L214.1 753.2L214.7 752.8L215.4 752.4L216.1 751.9L216.8 751.5L217.5 751.0L218.1 750.6L218.8 750.1L219.5 749.7L220.2 749.2L220.9 748.7L221.6 748.2L222.3 747.8L223.0 747.3L223.6 746.8L224.3 746.3L225.0 745.9L225.7 745.4L226.4 744.9L227.1 744.5L227.7 744.0L228.4 743.6L229.1 743.1L229.7 742.7L230.4 742.3L231.1 741.9L231.7 741.5L232.4 741.1L233.0 740.7L233.6 740.3L234.3 740.0L234.9 739.6L235.5 739.3L236.1 739.0L236.7 738.7L237.3 738.5L237.9 738.2L238.5 738.0L239.1 737.8L239.7 737.6L240.2 737.5L240.8 737.3L241.3 737.2L241.8 737.1L242.3 737.1L242.8 737.0L243.3 737.0L243.8 737.0L244.3 737.1L244.7 737.1L245.2 737.2L245.6 737.3L246.1 737.5L246.5 737.6L246.9 737.8L247.3 738.0L247.7 738.2L248.1 738.4L248.4 738.6L248.8 738.9L249.2 739.2L249.5 739.4L249.9 739.7L250.2 740.0L250.6 740.3L250.9 740.7L251.3 741.0L251.6 741.3L251.9 741.7L252.2 742.0L252.6 742.4L252.9 742.8L253.2 743.1L253.5 743.5L253.8 743.9L254.2 744.3L254.5 744.7L254.8 745.0L255.1 745.4L255.5 745.8L255.8 746.2L256.1 746.5L256.4 746.9L256.8 747.3L257.1 747.6L257.5 748.0L257.8 748.3L258.2 748.7L258.5 749.0L258.9 749.3L259.3 749.6L259.6 749.9L260.0 750.2L260.4 750.5L260.8 750.7L261.2 751.0L261.6 751.2L262.1 751.4L262.5 751.6L262.9 751.8L263.4 751.9L263.9 752.1L264.4 752.2L264.8 752.3L265.4 752.3L265.9 752.4L266.4 752.4L266.9 752.4L267.5 752.5L268.0 752.4L268.6 752.4L269.1 752.4M272.6 751.9L273.2 751.7L273.9 751.6L274.5 751.5L275.1 751.3L275.7 751.2L276.4 751.0L277.0 750.8L277.6 750.6L278.3 750.5L278.9 750.3L279.6 750.1L280.2 749.9L280.9 749.7L281.6 749.5L282.2 749.3L282.9 749.0L283.6 748.8L284.2 748.6L284.9 748.4L285.6 748.2L286.3 748.0L286.9 747.8L287.6 747.5L288.3 747.3L289.0 747.1L289.7 746.9L290.4 746.7L291.0 746.5L291.7 746.3L292.4 746.2L293.1 746.0L293.8 745.8L294.4 745.6L295.1 745.5L295.8 745.3L296.5 745.2L297.1 745.1L297.8 744.9L298.5 744.8L299.1 744.7L299.8 744.6L300.5 744.5L301.1 744.5L301.8 744.4L302.4 744.4L303.1 744.4L303.7 744.4L304.4 744.4L305.0 744.4L305.6 744.4L306.3 744.4L306.9 744.5L307.6 744.5L308.2 744.6L308.9 744.7L309.5 744.8L310.2 744.9L310.8 745.0L311.5 745.1L312.2 745.2L312.8 745.3L313.5 745.5L314.1 745.6L314.8 745.8L315.5 745.9L316.1 746.1L316.8 746.2L317.4 746.4L318.1 746.6L318.8 746.8L319.4 746.9L320.1 747.1L320.7 747.3L321.4 747.5L322.1 747.7L322.7 747.9L323.4 748.0L324.0 748.2L324.7 748.4L325.3 748.6L326.0 748.8L326.6 749.0L327.3 749.2L327.9 749.3L328.6 749.5L329.2 749.7L329.8 749.9L330.5 750.0L331.1 750.2L331.8 750.4L332.4 750.5L333.0 750.7L333.6 750.8L334.3 750.9L334.9 751.0M337.9 751.6L338.5 751.6L339.1 751.7L339.7 751.8L340.3 751.8L340.9 751.8L341.5 751.9L342.1 751.9L342.6 751.9L343.2 751.9L343.8 751.8L344.3 751.8L344.9 751.8L345.4 751.7L346.0 751.6L346.5 751.6L347.1 751.5L347.6 751.4L348.2 751.3L348.7 751.2L349.2 751.1L349.7 751.0L350.3 750.9L350.8 750.7L351.3 750.6L351.8 750.5L352.3 750.3L352.9 750.2L353.4 750.0L353.9 749.9L354.4 749.7L354.9 749.6L355.4 749.4L355.9 749.2L356.4 749.1L356.9 748.9L357.4 748.7L357.9 748.5L358.4 748.4L358.9 748.2L359.4 748.0L359.9 747.9L360.4 747.7L360.8 747.5L361.3 747.4L361.8 747.2L362.3 747.0L362.8 746.9L363.3 746.7L363.8 746.6L364.3 746.4L364.8 746.3L365.3 746.1L365.7 746.0L366.2 745.9L366.7 745.7L367.2 745.6L367.7 745.5L368.2 745.4L368.7 745.3L369.2 745.2L369.7 745.1L370.2 745.1L370.7 745.0L371.2 744.9L371.7 744.9L372.2 744.8L372.8 744.8L373.3 744.8L373.8 744.8L374.3 744.8L374.8 744.8L375.3 744.8L375.8 744.9L376.3 744.9L376.8 745.0M379.4 745.4L379.9 745.5L380.4 745.6L380.9 745.7L381.4 745.8L382.0 745.9L382.5 746.0L383.0 746.2L383.5 746.3L384.0 746.4L384.5 746.6L385.0 746.7L385.5 746.8L386.0 747.0L386.6 747.1L387.1 747.2L387.6 747.4L388.1 747.5L388.6 747.7L389.1 747.8L389.6 747.9L390.1 748.1L390.6 748.2L391.2 748.3L391.7 748.4L392.2 748.5L392.7 748.6L393.2 748.8L393.7 748.9L394.2 748.9L394.7 749.0L395.2 749.1L395.8 749.2L396.3 749.2L396.8 749.3M398.8 749.4L399.3 749.4L399.8 749.4L400.4 749.4L400.9 749.4L401.4 749.3L401.9 749.3L402.4 749.2L402.9 749.1L403.4 749.0L403.9 748.9L404.5 748.8L405.0 748.7L405.5 748.6L406.0 748.4L406.5 748.2L407.0 748.1L407.5 747.9L408.0 747.7L408.5 747.5L409.1 747.3L409.6 747.1L410.1 746.9L410.6 746.6L411.1 746.4L411.6 746.1L412.1 745.9L412.6 745.6L413.1 745.4L413.7 745.1L414.2 744.8L414.7 744.5L415.2 744.3L415.7 744.0L416.2 743.7L416.7 743.4L417.2 743.1L417.8 742.7L418.3 742.4L418.8 742.1L419.3 741.8L419.8 741.5L420.3 741.2L420.8 740.8L421.3 740.5L421.8 740.2L422.4 739.8L422.9 739.5L423.4 739.2L423.9 738.9L424.4 738.5L424.9 738.2L425.4 737.9L425.9 737.5L426.4 737.2L427.0 736.9L427.5 736.6L428.0 736.2L428.5 735.9L429.0 735.6L429.5 735.3L430.0 735.0L430.5 734.7L431.1 734.3L431.6 734.0L432.1 733.7L432.6 733.5L433.1 733.2L433.6 732.9L434.1 732.6" fill="none" stroke="#000" stroke-width="2.8" stroke-linejoin="round"/>
<path d="M69.83 752.81 L77.33 760.31 M69.83 760.31 L77.33 752.81" stroke="#000" stroke-width="2.9" stroke-linecap="round" fill="none"/>
<path d="M85.17 756.57 L92.67 764.07 M85.17 764.07 L92.67 756.57" stroke="#000" stroke-width="2.9" stroke-linecap="round" fill="none"/>
<path d="M115.86 756.10 L123.36 763.60 M115.86 763.60 L123.36 756.10" stroke="#000" stroke-width="2.9" stroke-linecap="round" fill="none"/>
<path d="M123.53 739.66 L131.03 747.16 M123.53 747.16 L131.03 739.66" stroke="#000" stroke-width="2.9" stroke-linecap="round" fill="none"/>
<path d="M154.21 729.33 L161.71 736.83 M154.21 736.83 L161.71 729.33" stroke="#000" stroke-width="2.9" stroke-linecap="round" fill="none"/>
<path d="M161.88 556.48 L169.38 563.98 M161.88 563.98 L169.38 556.48" stroke="#000" stroke-width="2.9" stroke-linecap="round" fill="none"/>
<path d="M169.55 750.47 L177.05 757.97 M169.55 757.97 L177.05 750.47" stroke="#000" stroke-width="2.9" stroke-linecap="round" fill="none"/>
<path d="M200.24 754.22 L207.74 761.72 M200.24 761.72 L207.74 754.22" stroke="#000" stroke-width="2.9" stroke-linecap="round" fill="none"/>
<path d="M238.59 733.32 L246.09 740.82 M238.59 740.82 L246.09 733.32" stroke="#000" stroke-width="2.9" stroke-linecap="round" fill="none"/>
<path d="M261.60 748.59 L269.10 756.09 M261.60 756.09 L269.10 748.59" stroke="#000" stroke-width="2.9" stroke-linecap="round" fill="none"/>
<path d="M299.96 740.60 L307.46 748.10 M299.96 748.10 L307.46 740.60" stroke="#000" stroke-width="2.9" stroke-linecap="round" fill="none"/>
<path d="M338.31 748.12 L345.81 755.62 M338.31 755.62 L345.81 748.12" stroke="#000" stroke-width="2.9" stroke-linecap="round" fill="none"/>
<path d="M369.00 741.07 L376.50 748.57 M369.00 748.57 L376.50 741.07" stroke="#000" stroke-width="2.9" stroke-linecap="round" fill="none"/>
<path d="M399.68 745.30 L407.18 752.80 M399.68 752.80 L407.18 745.30" stroke="#000" stroke-width="2.9" stroke-linecap="round" fill="none"/>
<path d="M430.37 728.86 L437.87 736.36 M430.37 736.36 L437.87 728.86" stroke="#000" stroke-width="2.9" stroke-linecap="round" fill="none"/>
<path d="M73.58 724.15 C78.69 722.90 81.72 723.63 88.92 720.40 C96.59 716.95 113.21 702.16 119.61 703.49 C126.00 704.82 120.88 727.29 127.28 728.38 C133.67 729.48 154.79 727.65 157.96 710.06 C164.35 674.60 163.07 509.89 165.63 515.61 C168.19 521.32 166.91 704.35 173.30 744.35 C175.88 760.49 193.22 767.93 203.99 755.62 C215.49 742.47 232.11 673.00 242.34 665.44 C252.57 657.89 255.13 702.70 265.35 710.30 C275.58 717.89 290.92 708.30 303.71 711.00 C316.49 713.70 330.56 725.33 342.06 726.50 C353.57 727.68 362.52 715.19 372.75 718.05 C382.98 720.91 393.20 742.63 403.43 743.65 C413.66 744.66 423.89 730.65 434.12 724.15" fill="none" stroke="#a6a6a6" stroke-width="3" stroke-linejoin="round"/>
<rect x="69.38" y="719.95" width="8.40" height="8.40" fill="#a6a6a6" stroke="#000" stroke-width="1.3"/>
<rect x="84.72" y="716.20" width="8.40" height="8.40" fill="#a6a6a6" stroke="#000" stroke-width="1.3"/>
<rect x="115.41" y="699.29" width="8.40" height="8.40" fill="#a6a6a6" stroke="#000" stroke-width="1.3"/>
<rect x="123.08" y="724.18" width="8.40" height="8.40" fill="#a6a6a6" stroke="#000" stroke-width="1.3"/>
<rect x="153.76" y="705.86" width="8.40" height="8.40" fill="#a6a6a6" stroke="#000" stroke-width="1.3"/>
<rect x="161.43" y="511.41" width="8.40" height="8.40" fill="#a6a6a6" stroke="#000" stroke-width="1.3"/>
<rect x="169.10" y="740.15" width="8.40" height="8.40" fill="#a6a6a6" stroke="#000" stroke-width="1.3"/>
<rect x="199.79" y="751.42" width="8.40" height="8.40" fill="#a6a6a6" stroke="#000" stroke-width="1.3"/>
<rect x="238.14" y="661.24" width="8.40" height="8.40" fill="#a6a6a6" stroke="#000" stroke-width="1.3"/>
<rect x="261.15" y="706.10" width="8.40" height="8.40" fill="#a6a6a6" stroke="#000" stroke-width="1.3"/>
<rect x="299.51" y="706.80" width="8.40" height="8.40" fill="#a6a6a6" stroke="#000" stroke-width="1.3"/>
<rect x="337.86" y="722.30" width="8.40" height="8.40" fill="#a6a6a6" stroke="#000" stroke-width="1.3"/>
<rect x="368.55" y="713.85" width="8.40" height="8.40" fill="#a6a6a6" stroke="#000" stroke-width="1.3"/>
<rect x="399.23" y="739.45" width="8.40" height="8.40" fill="#a6a6a6" stroke="#000" stroke-width="1.3"/>
<rect x="429.92" y="719.95" width="8.40" height="8.40" fill="#a6a6a6" stroke="#000" stroke-width="1.3"/>
<path d="M73.58 709.12 C78.69 720.71 81.25 735.27 88.92 743.88 C96.59 752.49 113.21 764.71 119.61 760.79 C126.00 756.88 120.88 724.08 127.28 720.40 C133.67 716.72 154.05 756.15 157.96 738.72 C164.35 710.22 163.07 550.68 165.63 549.43 C168.19 548.17 166.91 697.07 173.30 731.20 C176.83 750.05 192.48 759.26 203.99 754.22 C215.49 749.17 232.11 708.18 242.34 700.90 C252.50 693.67 255.13 707.13 265.35 710.53 C275.58 713.94 290.92 723.21 303.71 721.34 C316.49 719.46 330.56 705.44 342.06 699.26 C353.57 693.08 362.52 676.79 372.75 684.23 C382.98 691.67 393.20 736.37 403.43 743.88 C413.66 751.40 423.89 734.17 434.12 729.32" fill="none" stroke="#000" stroke-width="3" stroke-linejoin="round"/>
<path d="M73.58 704.12 L78.58 714.12 L68.58 714.12 Z" fill="#000"/>
<path d="M88.92 738.88 L93.92 748.88 L83.92 748.88 Z" fill="#000"/>
<path d="M119.61 755.79 L124.61 765.79 L114.61 765.79 Z" fill="#000"/>
<path d="M127.28 715.40 L132.28 725.40 L122.28 725.40 Z" fill="#000"/>
<path d="M157.96 733.72 L162.96 743.72 L152.96 743.72 Z" fill="#000"/>
<path d="M165.63 544.43 L170.63 554.43 L160.63 554.43 Z" fill="#000"/>
<path d="M173.30 726.20 L178.30 736.20 L168.30 736.20 Z" fill="#000"/>
<path d="M203.99 749.22 L208.99 759.22 L198.99 759.22 Z" fill="#000"/>
<path d="M242.34 695.90 L247.34 705.90 L237.34 705.90 Z" fill="#000"/>
<path d="M265.35 705.53 L270.35 715.53 L260.35 715.53 Z" fill="#000"/>
<path d="M303.71 716.34 L308.71 726.34 L298.71 726.34 Z" fill="#000"/>
<path d="M342.06 694.26 L347.06 704.26 L337.06 704.26 Z" fill="#000"/>
<path d="M372.75 679.23 L377.75 689.23 L367.75 689.23 Z" fill="#000"/>
<path d="M403.43 738.88 L408.43 748.88 L398.43 748.88 Z" fill="#000"/>
<path d="M434.12 724.32 L439.12 734.32 L429.12 734.32 Z" fill="#000"/>
<text font-family="Liberation Sans, sans-serif" font-size="11.5" font-weight="bold" fill="#000" stroke="#000" stroke-width="0.3" transform="translate(164.70 452.10) scale(1 1.18)" text-anchor="middle">φ</text>
<path d="M373.10 472.70 H384.50 M392.50 472.70 H403.90" stroke="#000" stroke-width="2.6"/>
<path d="M385.50 469.70 L391.50 475.70 M385.50 475.70 L391.50 469.70" stroke="#000" stroke-width="2.7" stroke-linecap="round" fill="none"/>
<path d="M373.10 495.30 H403.90" stroke="#a6a6a6" stroke-width="2.8"/>
<rect x="384.85" y="491.65" width="7.30" height="7.30" fill="#a6a6a6" stroke="#000" stroke-width="1.3"/>
<path d="M373.10 518.00 H403.90" stroke="#000" stroke-width="2.8"/>
<path d="M388.50 513.80 L393.20 522.20 L383.80 522.20 Z" fill="#000"/>
<text font-family="Liberation Sans, sans-serif" font-size="12.75" fill="#111" stroke="#111" stroke-width="0.18" x="407.10" y="477.20">WC1</text>
<text font-family="Liberation Sans, sans-serif" font-size="12.75" fill="#111" stroke="#111" stroke-width="0.18" x="407.10" y="499.80">CD4</text>
<text font-family="Liberation Sans, sans-serif" font-size="12.75" fill="#111" stroke="#111" stroke-width="0.18" x="407.10" y="522.50">CD8</text>
</svg>
</body></html>
